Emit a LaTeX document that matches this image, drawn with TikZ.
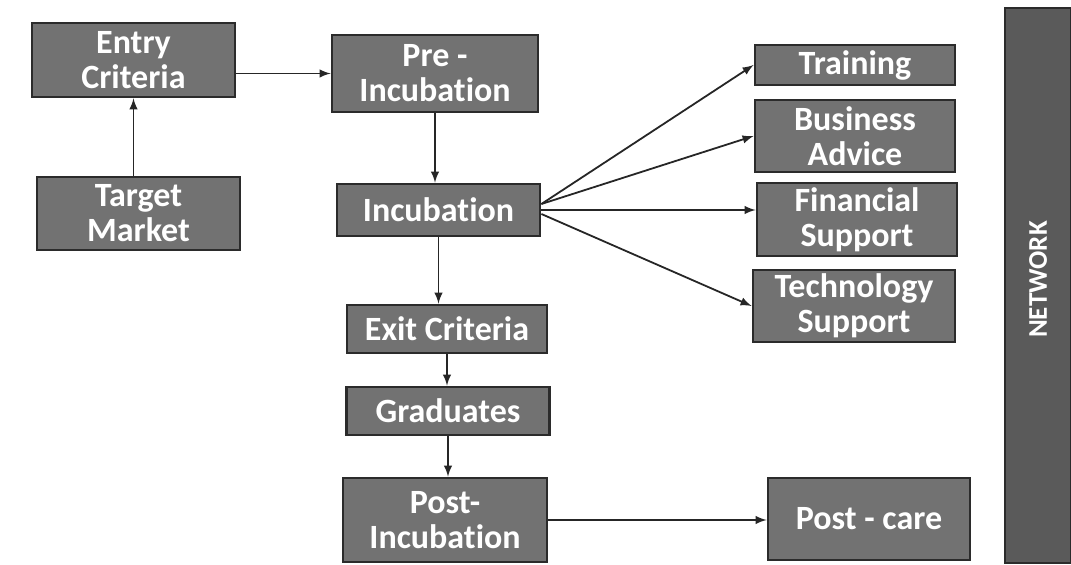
\documentclass[tikz,border=0pt]{standalone}
\usepackage{fontspec}
\setmainfont{Carlito}[Ligatures=NoCommon]
\definecolor{boxfill}{HTML}{727272}
\definecolor{boxedge}{HTML}{2B2B2B}
\definecolor{netfill}{HTML}{5A5A5A}
\begin{document}
\begin{tikzpicture}[x=0.5pt, y=-0.5pt,
        stage/.style={draw=boxedge, fill=boxfill, line width=1.4pt, text=white, align=center, inner sep=0pt,
            font=\bfseries\fontsize{17}{17.5}\selectfont},
        link/.style={-latex, line width=0.9pt, draw=black!85}]
    \useasboundingbox (0,0) rectangle (1071,565);
    % left column
    \node[stage, minimum width=101.5pt, minimum height=37pt] (entry) at (133.5,60) {Entry\\Criteria};
    \node[stage, minimum width=101.5pt, minimum height=36.5pt] (target) at (138.5,213.5) {Target\\Market};
    % middle column
    \node[stage, minimum width=103pt, minimum height=38.5pt] (pre) at (435,73.5) {Pre -\\Incubation};
    \node[stage, minimum width=101.5pt, minimum height=26pt] (incub) at (438.5,210) {Incubation};
    \node[stage, minimum width=100pt, minimum height=24pt] (exit) at (447,329) {Exit Criteria};
    \node[stage, minimum width=101.5pt, minimum height=24pt] (grad) at (448,411) {Graduates};
    \node[stage, minimum width=102pt, minimum height=42pt] (post) at (445,520) {Post-\\Incubation};
    % services
    \node[stage, minimum width=100pt, minimum height=20pt] (train) at (855,65) {Training};
    \node[stage, minimum width=100pt, minimum height=36pt] (advice) at (855,136) {Business\\Advice};
    \node[stage, minimum width=100pt, minimum height=36.5pt] (finance) at (857,219.5) {Financial\\Support};
    \node[stage, minimum width=101pt, minimum height=36pt] (tech) at (854,306) {Technology\\Support};
    \node[stage, minimum width=101pt, minimum height=41pt] (care) at (869,519) {Post - care};
    \node[stage, fill=netfill, minimum width=33pt, minimum height=277.5pt] (net) at (1038,285.5) {};
    \node[text=white, font=\bfseries\fontsize{13.5}{14}\selectfont, rotate=90] (netlabel) at ([yshift=3pt]net.center) {NETWORK};
    % arrows
    \draw[link] (target.north -| entry.south) -- (entry.south);
    \draw[link] (entry.east |- pre.west) -- (pre.west);
    \draw[link] (pre.south) -- (pre.south |- incub.north);
    \draw[link] (incub.south) -- (incub.south |- exit.north);
    \draw[link] (exit.south) -- (exit.south |- grad.north);
    \draw[link] (grad.south) -- (grad.south |- post.north);
    \draw[link] (post.east) -- (post.east -| care.west);
    \draw[link] ([yshift=3pt]incub.east) -- (train.west);
    \draw[link] ([yshift=3pt]incub.east) -- (advice.west);
    \draw[link] (incub.east) -- (incub.east -| finance.west);
    \draw[link] ([yshift=-2pt]incub.east) -- (tech.west);
\end{tikzpicture}
\end{document}
